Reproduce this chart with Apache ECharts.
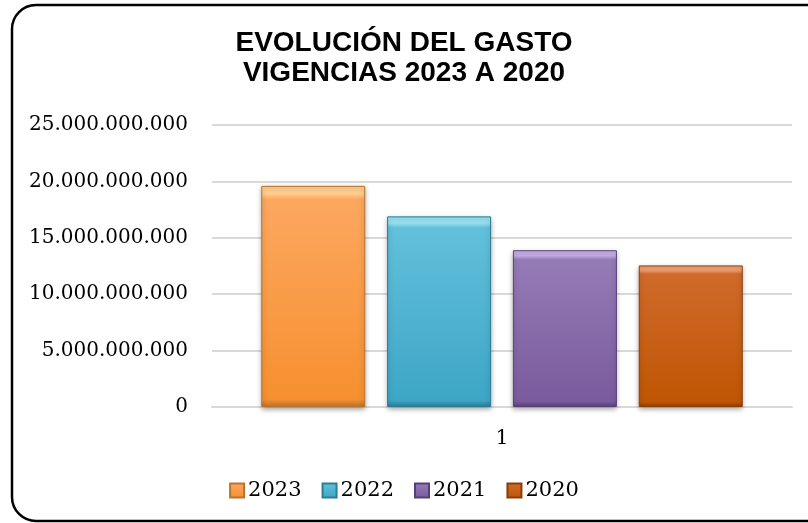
<!DOCTYPE html>
<html>
<head>
<meta charset="utf-8">
<script src="https://cdn.jsdelivr.net/npm/echarts@6/dist/echarts.min.js"></script>
<style>
  html, body { margin: 0; padding: 0; background: #fff; }
  #chart { width: 808px; height: 523px; }
</style>
</head>
<body>
<div id="chart"></div>
<script>
// datos
const categories = ['1']
const years = ['2023', '2022', '2021', '2020']
const gasto2023 = [19600000000]
const gasto2022 = [16900000000]
const gasto2021 = [13900000000]
const gasto2020 = [12550000000]
const yTicks = [0, 5000000000, 10000000000, 15000000000, 20000000000, 25000000000]

const values = [gasto2023, gasto2022, gasto2021, gasto2020]

// colores tipo bisel (claro arriba, base, oscuro abajo)
const colores = [
  { top: '#ffd08e', mid: '#fca760', bot: '#f6902f', border: '#b8732f' },
  { top: '#97e2f4', mid: '#62c0db', bot: '#3ea6c6', border: '#2c7c94' },
  { top: '#c5aee6', mid: '#957bb6', bot: '#7a5b9d', border: '#574077' },
  { top: '#f0a070', mid: '#d06a2b', bot: '#bf5604', border: '#8a3e06' }
]

function fillFor(c) {
  return new echarts.graphic.LinearGradient(0, 0, 0, 1, [
    { offset: 0, color: c.top },
    { offset: 0.035, color: c.top },
    { offset: 0.06, color: c.mid },
    { offset: 0.965, color: c.bot },
    { offset: 1, color: c.border }
  ])
}

function miles(v) {
  return String(v).replace(/\B(?=(\d{3})+(?!\d))/g, '.')
}

const serif = 'DejaVu Serif'

const chart = echarts.init(document.getElementById('chart'), null, { renderer: 'canvas' })

const option = {
  backgroundColor: '#fff',
  animation: false,
  title: {
    text: 'EVOLUCIÓN DEL GASTO\nVIGENCIAS 2023 A 2020',
    left: 'center',
    top: 23,
    textStyle: {
      fontFamily: 'Liberation Sans',
      fontWeight: 'bold',
      fontSize: 28,
      lineHeight: 30,
      color: '#000'
    }
  },
  graphic: [
    {
      type: 'rect',
      shape: { x: 12, y: 5, width: 830, height: 516, r: 24 },
      style: { fill: 'none', stroke: '#000', lineWidth: 2.5 },
      z: 10
    }
  ],
  legend: {
    data: years,
    top: 480,
    left: 'center',
    padding: 0,
    icon: 'rect',
    itemWidth: 14,
    itemHeight: 14,
    itemGap: 20,
    textStyle: { fontFamily: serif, fontSize: 21, color: '#000', padding: [0, 0, 0, -1] }
  },
  grid: { left: 212, right: 16, top: 125, bottom: 116 },
  xAxis: {
    type: 'category',
    data: categories,
    axisLine: { lineStyle: { color: '#d9d9d9', width: 2 } },
    axisTick: { show: false },
    axisLabel: { fontFamily: serif, fontSize: 20, color: '#000', margin: 22 }
  },
  yAxis: {
    type: 'value',
    min: yTicks[0],
    max: yTicks[yTicks.length - 1],
    interval: yTicks[1] - yTicks[0],
    axisLine: { show: false },
    axisTick: { show: false },
    splitLine: { lineStyle: { color: '#d9d9d9', width: 2 } },
    axisLabel: {
      fontFamily: serif,
      fontSize: 20,
      color: '#000',
      margin: 24,
      formatter: miles
    }
  },
  series: years.map((y, i) => ({
    name: y,
    type: 'bar',
    data: values[i],
    barWidth: 104,
    barGap: '21%',
    itemStyle: {
      color: fillFor(colores[i]),
      borderColor: colores[i].border,
      borderWidth: 1,
      shadowColor: 'rgba(0,0,0,0.35)',
      shadowBlur: 5,
      shadowOffsetY: 2
    }
  }))
}

chart.setOption(option)
</script>
</body>
</html>
